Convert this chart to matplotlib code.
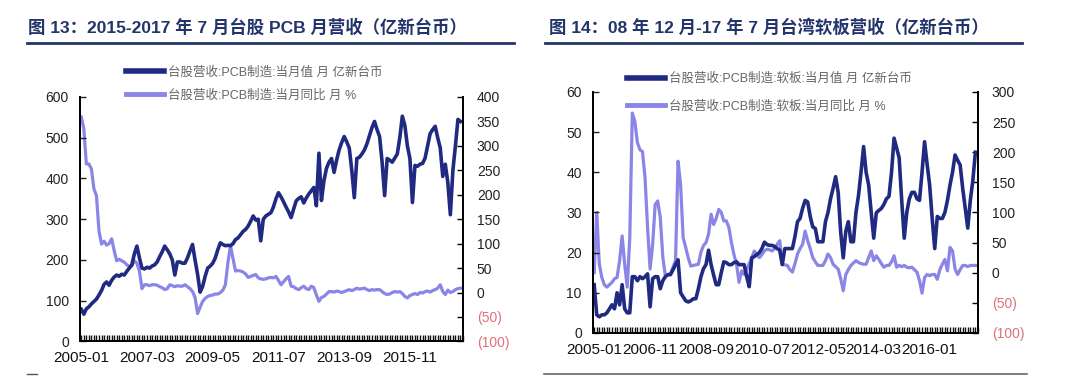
import matplotlib
matplotlib.use('Agg')
import matplotlib.pyplot as plt
import numpy as np
from matplotlib.ticker import MultipleLocator
from matplotlib.lines import Line2D

plt.rcParams['font.family'] = ['Liberation Sans', 'Noto Sans CJK SC']

# ---- data: monthly, 2005-01 .. 2017-07 (151 points) ----
pcb_rev = [79, 67, 80, 85, 92, 98, 104, 114, 125, 140, 146, 138,
           150, 158, 163, 160, 165, 163, 172, 180, 188, 215, 234, 205,
           180, 178, 182, 180, 185, 188, 195, 208, 220, 234, 225, 215,
           200, 163, 195, 195, 192, 192, 205, 222, 238, 200, 165, 121,
           135, 160, 180, 185, 192, 205, 225, 242, 238, 235, 236, 235,
           240, 250, 254, 262, 270, 275, 283, 295, 308, 298, 300, 247,
           300, 308, 312, 316, 330, 350, 365, 355, 343, 330, 318, 304,
           325, 345, 351, 355, 340, 352, 362, 370, 378, 333, 462, 346,
           395, 425, 440, 449, 415, 445, 470, 488, 503, 490, 475, 420,
           353, 449, 452, 460, 470, 485, 505, 525, 540, 520, 503, 440,
           358, 449, 445, 440, 450, 460, 500, 553, 530, 480, 449, 341,
           432, 430, 435, 437, 450, 480, 510, 520, 528, 500, 475, 405,
           435, 390, 311, 420, 480, 545, 540]
pcb_yoy = [359, 335, 263, 263, 253, 212, 198, 126, 99, 105, 97, 100,
           110, 86, 65, 68, 65, 62, 57, 53, 55, 65, 60, 44,
           8, 16, 16, 14, 16, 16, 15, 12, 10, 6, 8, 16,
           14, 12, 14, 13, 13, 16, 12, 8, 2, -10, -43, -30,
           -18, -12, -8, -6, -5, -3, -3, 0, 5, 16, 61, 96,
           70, 44, 45, 44, 42, 38, 31, 33, 35, 37, 30, 28,
           27, 28, 30, 31, 30, 33, 25, 16, 22, 28, 33, 13,
           12, 8, 6, 10, 13, 8, 6, 13, 10, -5, -18, -10,
           -8, -3, 2, 2, 1, 3, 2, 0, 2, 4, 6, 4,
           6, 9, 7, 8, 9, 6, 4, 6, 5, 6, 6, 2,
           -2, -4, -3, 0, 2, 1, 2, -2, -8, -11, -6, -4,
           -2, -4, 0, -1, 2, 3, 1, 4, 6, 9, 16, 2,
           -4, 5, 0, 2, 6, 8, 9]

fpc_rev = [12, 4.5, 4, 4.5, 4.5, 5, 6, 7, 6, 10, 7, 12,
           6, 5, 5, 14, 14, 13, 14, 13.5, 14, 14.7, 6.5, 13.5,
           14, 14, 11, 13, 14, 14.5, 14.5, 15.7, 17, 18.2, 10, 9,
           8, 7.7, 8, 8.5, 8.5, 11, 14, 16, 17, 20.6, 17, 14.4,
           12, 12, 15, 17.7, 17.5, 17, 17, 17.5, 17.7, 17, 17, 17,
           14, 11.5, 18.7, 19, 19.5, 20, 21, 22.6, 22, 21.8, 21.8, 21.5,
           21, 20.6, 17, 21, 21, 21, 21, 24, 27.7, 28.5, 31, 33,
           32.6, 29, 26.4, 26, 22.7, 22.7, 22.7, 27.7, 30, 33.4, 36, 38.9,
           35, 25, 18.7, 25.3, 27.7, 22.7, 22.7, 30, 34.2, 40, 46.4, 40,
           36.8, 30, 23.6, 29.9, 30.5, 31, 32, 33.4, 34, 40, 48.5, 46,
           43.6, 33, 23.6, 30, 33.4, 35, 35, 33.4, 33, 40, 47.6, 42,
           36.8, 28.5, 21, 29, 28.5, 28.5, 30, 33, 36.8, 40, 44.3, 43,
           41.8, 36, 31, 26.1, 33, 38, 45]
fpc_yoy = [0, 100, 15, -8, -20, -24, -20, -16, -10, -8, 20, 61,
           14, -24, 58, 265, 251, 216, 204, 201, 158, 75, 6, 47,
           113, 119, 92, 26, -5, -3, -2, 9, 20, 185, 146, 58,
           42, 25, 11, 12, 13, 14, 34, 45, 50, 64, 97, 80,
           90, 105, 100, 86, 86, 75, 50, 30, 14, -16, 3, -3,
           5, 15, 25, 36, 30, 25, 30, 36, 39, 38, 36, 40,
           47, 53, 14, 13, 12, 5, 1, 15, 31, 40, 47, 69,
           53, 40, 25, 18, 12, 12, 12, 20, 31, 25, 14, 10,
           6, -10, -30, -3, 5, 12, 16, 20, 17, 15, 14, 14,
           25, 36, 20, 28, 22, 15, 9, 12, 12, 18, 28, 9,
           12, 10, 12, 9, 8, 9, 5, 1, -13, -34, -8, -3,
           -5, -3, -3, -11, 5, 14, 22, 3, 42, 36, 6, -3,
           5, 12, 12, 10, 12, 12, 12]

left_dates = ['2005-01', '2007-03', '2009-05', '2011-07', '2013-09', '2015-11']
right_dates = ['2005-01', '2006-11', '2008-09', '2010-07', '2012-05', '2014-03', '2016-01']

title_l = '图 13：2015-2017 年 7 月台股 PCB 月营收（亿新台币）'
title_r = '图 14：08 年 12 月-17 年 7 月台湾软板营收（亿新台币）'
lab_l = ['台股营收:PCB制造:当月值 月 亿新台币', '台股营收:PCB制造:当月同比 月 %']
lab_r = ['台股营收:PCB制造:软板:当月值 月 亿新台币', '台股营收:PCB制造:软板:当月同比 月 %']

DARK = '#1f2a80'
LIGHT = '#8a85e6'
NAVY = '#22346a'
RED = '#e0707a'

fig = plt.figure(figsize=(10.8, 3.88), dpi=100)


def right_label(v):
    return '(%d)' % abs(v) if v < 0 else '%d' % v


def panel(rect, dark, light, ylim, yticks, y2lim, y2ticks, dates, step, labels, leg_xy, leg_sp):
    ax = fig.add_axes(rect)
    ax2 = ax.twinx()
    x = np.arange(len(dark))
    ax2.plot(x, light, color=LIGHT, lw=2.3, solid_joinstyle='round')
    ax.plot(x, dark, color=DARK, lw=2.6, solid_joinstyle='round')
    ax.set_zorder(ax2.get_zorder() + 1)
    ax.patch.set_visible(False)

    ax.set_xlim(-0.5, len(dark))
    ax.set_ylim(*ylim)
    ax.set_yticks(yticks)
    ax2.set_ylim(*y2lim)
    ax2.set_yticks(y2ticks)
    ax2.set_yticklabels([right_label(v) for v in y2ticks])
    for t, v in zip(ax2.get_yticklabels(), y2ticks):
        t.set_color(RED if v < 0 else '#222222')

    ax.set_xticks(np.arange(len(dates)) * step)
    ax.set_xticklabels(dates)
    ax.xaxis.set_minor_locator(MultipleLocator(1))

    for a in (ax, ax2):
        a.spines['top'].set_visible(False)
        for s in ('left', 'right', 'bottom'):
            a.spines[s].set_linewidth(1.3)
    ax.tick_params(axis='x', which='both', direction='in', length=4, width=1.0,
                   labelsize=11, pad=7, colors='#111111')
    ax.tick_params(axis='y', direction='in', length=4, width=1.0, labelsize=10,
                   pad=8, colors='#222222')
    ax2.tick_params(axis='y', direction='in', length=4, width=1.0, labelsize=10, pad=10)

    handles = [Line2D([], [], color=DARK, lw=4), Line2D([], [], color=LIGHT, lw=3.5)]
    fig.legend(handles, labels, loc='upper left', bbox_to_anchor=leg_xy, frameon=False,
               fontsize=9, handlelength=3.0, handletextpad=0.3, labelspacing=leg_sp,
               labelcolor='#666666', borderaxespad=0, borderpad=0)
    return ax


panel([0.0741, 0.120, 0.3546, 0.630], pcb_rev, pcb_yoy,
      (0, 600), range(0, 601, 100), (-100, 400), list(range(-100, 401, 50)),
      left_dates, 26, lab_l, (0.117, 0.830), 0.85)
panel([0.549, 0.142, 0.3565, 0.621], fpc_rev, fpc_yoy,
      (0, 60), range(0, 61, 10), (-100, 300), list(range(-100, 301, 50)),
      right_dates, 22, lab_r, (0.581, 0.813), 1.2)

# titles with underline
fig.text(0.026, 0.93, title_l, fontsize=12.5, fontweight='bold', color=NAVY, va='center')
fig.text(0.508, 0.93, title_r, fontsize=12.5, fontweight='bold', color=NAVY, va='center')
fig.add_artist(Line2D([0.025, 0.476], [0.889, 0.889], color=NAVY, lw=2))
fig.add_artist(Line2D([0.505, 0.946], [0.889, 0.889], color=NAVY, lw=2))
# bottom rules
fig.add_artist(Line2D([0.025, 0.034], [0.037, 0.037], color='#555555', lw=1))
fig.add_artist(Line2D([0.504, 0.951], [0.037, 0.037], color='#666666', lw=1.2))

fig.savefig('out.png', dpi=100, facecolor='white')
